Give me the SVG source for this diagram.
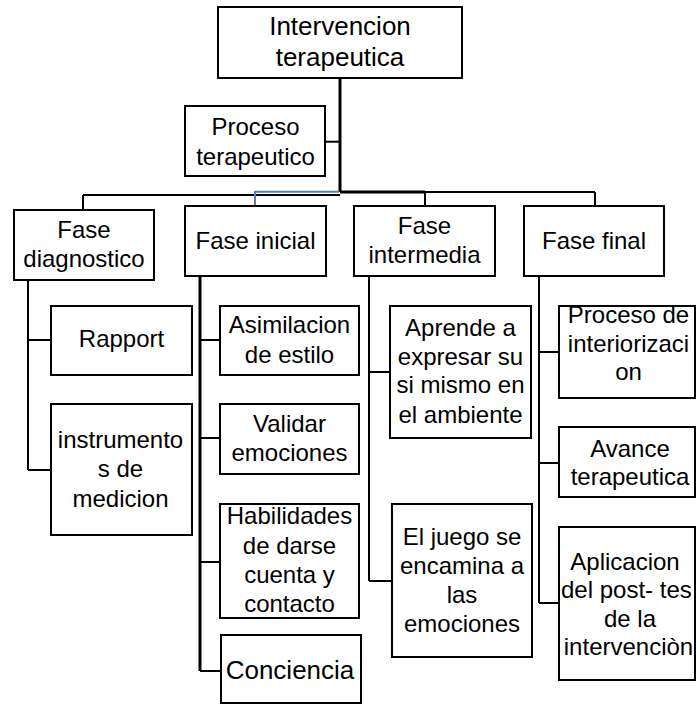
<svg xmlns="http://www.w3.org/2000/svg" width="696" height="705" viewBox="0 0 696 705">
<style>
.box{fill:#fff;stroke:#000;stroke-width:2}
.ln{fill:none;stroke:#000;stroke-width:2}
.thk{fill:none;stroke:#000;stroke-width:3}
.blue{fill:none;stroke:#4F81BD;stroke-width:2}
text{font-family:"Liberation Sans",Arial,sans-serif;font-size:24px;fill:#000;text-anchor:middle}
.big{font-size:26px}
</style>
<rect width="696" height="705" fill="#fff"/>
<g id="connectors">
<path class="thk" d="M340,78V192"/>
<path class="ln" d="M325,141.7H340"/>
<path class="thk" d="M340,192H425"/>
<path class="ln" d="M425,192H595M425,192V206M595,192V206"/>
<path class="ln" d="M83,195H340M83,195V210"/>
<path class="blue" d="M339,191.7H255V205"/>
<path class="ln" d="M28,280V470M28,340H51M28,470H51"/>
<path class="thk" d="M200,276V671"/>
<path class="ln" d="M200,340H220M200,438H220M200,562H220M200,671H221"/>
<path class="ln" d="M369,276V581M369,372H390M369,581H392"/>
<path class="ln" d="M539,276V603M539,352H559M539,463H559M539,603H559"/>
</g>
<g id="n-intervencion"><rect class="box" x="218" y="7" width="244" height="71"/><text class="big" x="340" y="35">Intervencion</text><text class="big" x="340" y="65.5">terapeutica</text></g>
<g id="n-proceso"><rect class="box" x="185" y="106" width="140" height="70"/><text x="255.5" y="135">Proceso</text><text x="255.5" y="165">terapeutico</text></g>
<g id="n-diagnostico"><rect class="box" x="14" y="210" width="140" height="70"/><text x="84" y="238.3">Fase</text><text x="84" y="267.3">diagnostico</text></g>
<g id="n-inicial"><rect class="box" x="185" y="206" width="141" height="70"/><text x="255.5" y="249">Fase inicial</text></g>
<g id="n-intermedia"><rect class="box" x="354" y="206" width="141" height="70"/><text x="424.5" y="234">Fase</text><text x="424.5" y="262.7">intermedia</text></g>
<g id="n-final"><rect class="box" x="524" y="206" width="140" height="70"/><text x="594" y="249">Fase final</text></g>
<g id="n-rapport"><rect class="box" x="51" y="306" width="141" height="69"/><text x="121.5" y="347.3">Rapport</text></g>
<g id="n-instrumentos"><rect class="box" x="51" y="404" width="141" height="131"/><text x="120.5" y="448.3">instrumento</text><text x="120.5" y="477.3">s de</text><text x="120.5" y="506.7">medicion</text></g>
<g id="n-asimilacion"><rect class="box" x="220" y="306" width="139" height="69"/><text x="289.5" y="333.3">Asimilacion</text><text x="289.5" y="362.7">de estilo</text></g>
<g id="n-validar"><rect class="box" x="220" y="404" width="139" height="70"/><text x="289.5" y="431.7">Validar</text><text x="289.5" y="461.3">emociones</text></g>
<g id="n-habilidades"><rect class="box" x="220" y="504" width="139" height="114"/><text x="289.5" y="524">Habilidades</text><text x="289.5" y="554">de darse</text><text x="289.5" y="583.3">cuenta y</text><text x="289.5" y="612.3">contacto</text></g>
<g id="n-conciencia"><rect class="box" x="221" y="635" width="140" height="68"/><text class="big" x="290" y="679.3">Conciencia</text></g>
<g id="n-aprende"><rect class="box" x="390" y="306" width="141" height="132"/><text x="460.5" y="335.7">Aprende a</text><text x="460.5" y="365">expresar su</text><text x="460.5" y="393.3">si mismo en</text><text x="460.5" y="422.7">el ambiente</text></g>
<g id="n-juego"><rect class="box" x="392" y="504" width="140" height="153"/><text x="462" y="545">El juego se</text><text x="462" y="574">encamina a</text><text x="462" y="603.3">las</text><text x="462" y="631.7">emociones</text></g>
<g id="n-interiorizacion"><rect class="box" x="559" y="306" width="136" height="92"/><text x="628.5" y="323.3">Proceso de</text><text x="628.5" y="351.7">interiorizaci</text><text x="628.5" y="380">on</text></g>
<g id="n-avance"><rect class="box" x="559" y="427" width="136" height="70"/><text x="630" y="456.7">Avance</text><text x="630" y="485">terapeutica</text></g>
<g id="n-aplicacion"><rect class="box" x="559" y="527" width="136" height="153"/><text x="625" y="570">Aplicacion</text><text x="561" y="598.3" style="text-anchor:start">del post- tes</text><text x="630" y="626.7">de la</text><text x="628.5" y="655">intervenciòn</text></g>
</svg>
